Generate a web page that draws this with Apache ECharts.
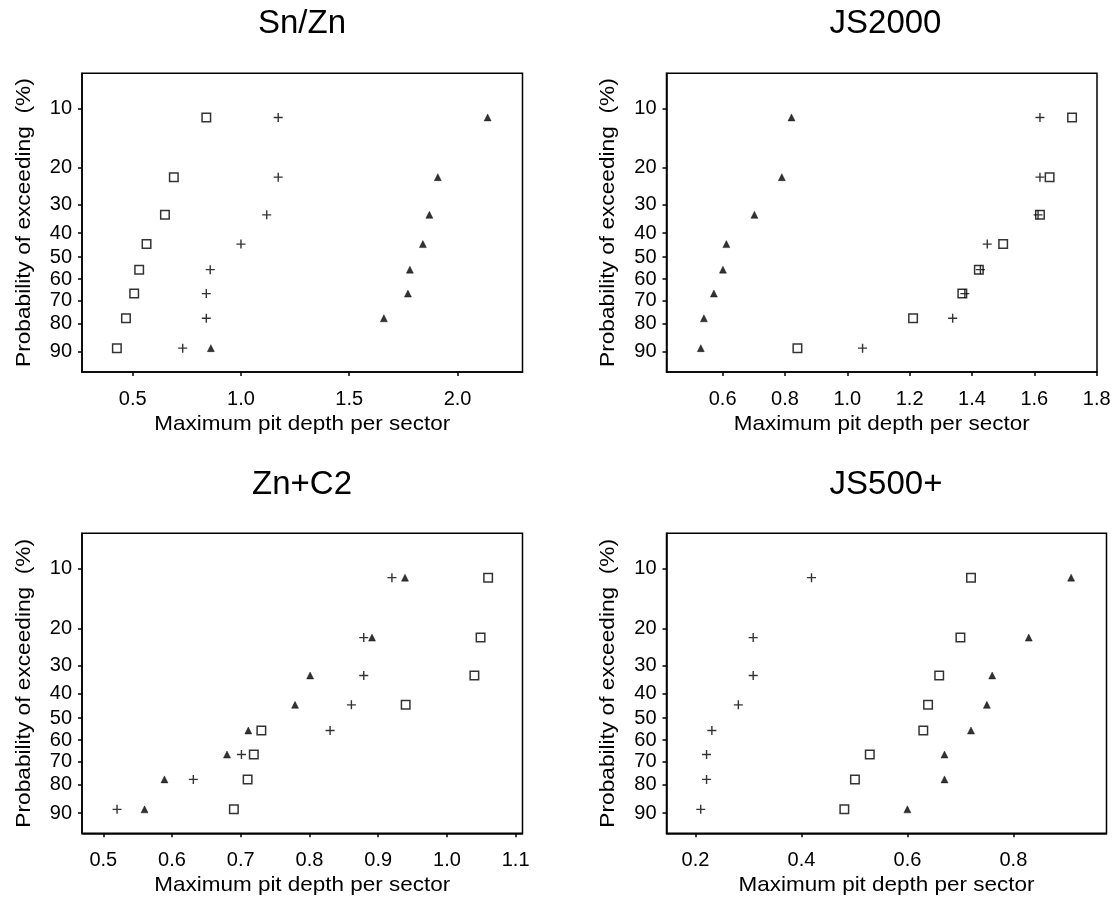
<!DOCTYPE html>
<html>
<head>
<meta charset="utf-8">
<script src="https://cdn.jsdelivr.net/npm/echarts@6/dist/echarts.min.js"></script>
<style>html,body{margin:0;padding:0;background:#fff}#c{width:1113px;height:909px}</style>
</head>
<body>
<div id="c"></div>
<script>
// Probability of exceeding (%) of the 8 ranked points in every panel
var probExceed = [11.1, 22.2, 33.3, 44.4, 55.6, 66.7, 77.8, 88.9];
// Y tick labels (%)
var yTicks = [10, 20, 30, 40, 50, 60, 70, 80, 90];

var titles = ['Sn/Zn', 'JS2000', 'Zn+C2', 'JS500+'];
var xTicks1 = [0.5, 1.0, 1.5, 2.0];
var xTicks2 = [0.6, 0.8, 1.0, 1.2, 1.4, 1.6, 1.8];
var xTicks3 = [0.5, 0.6, 0.7, 0.8, 0.9, 1.0, 1.1];
var xTicks4 = [0.2, 0.4, 0.6, 0.8];

// Sn/Zn
var snzn_square = [0.840, 0.690, 0.649, 0.564, 0.530, 0.507, 0.469, 0.427];
var snzn_plus   = [1.172, 1.172, 1.119, 1.000, 0.858, 0.840, 0.840, 0.731];
var snzn_tri    = [2.139, 1.909, 1.870, 1.840, 1.780, 1.771, 1.660, 0.861];
// JS2000
var js2000_square = [1.721, 1.649, 1.618, 1.500, 1.422, 1.369, 1.211, 0.840];
var js2000_plus   = [1.618, 1.618, 1.612, 1.449, 1.427, 1.377, 1.338, 1.049];
var js2000_tri    = [0.821, 0.790, 0.702, 0.612, 0.601, 0.572, 0.540, 0.530];
// Zn+C2
var znc2_square = [1.060, 1.049, 1.040, 0.940, 0.730, 0.719, 0.710, 0.690];
var znc2_plus   = [0.920, 0.879, 0.879, 0.861, 0.830, 0.701, 0.631, 0.520];
var znc2_tri    = [0.939, 0.891, 0.801, 0.779, 0.711, 0.680, 0.589, 0.560];
// JS500+
var js500_square = [0.720, 0.700, 0.660, 0.639, 0.630, 0.529, 0.501, 0.481];
var js500_plus   = [0.419, 0.309, 0.309, 0.281, 0.231, 0.221, 0.221, 0.210];
var js500_tri    = [0.909, 0.829, 0.760, 0.750, 0.720, 0.670, 0.670, 0.600];

// Gumbel (extreme value) probability scale
function gumbel(p) { return -Math.log(-Math.log(1 - p / 100)); }
function invGumbel(v) { return 100 * (1 - Math.exp(-Math.exp(-v))); }

var FONT = '"Liberation Sans", Arial, Helvetica, sans-serif';
var panels = [
  { title: titles[0], ticks: xTicks1, min: 0.266, max: 2.300, sq: snzn_square, pl: snzn_plus, tr: snzn_tri,
    grid: { left: 82, top: 73.3, width: 440.5, height: 298.7 }, tx: 302, ty: 24 },
  { title: titles[1], ticks: xTicks2, min: 0.420, max: 1.801, sq: js2000_square, pl: js2000_plus, tr: js2000_tri,
    grid: { left: 666.5, top: 73.3, width: 430.5, height: 298.7 }, tx: 885.5, ty: 24 },
  { title: titles[2], ticks: xTicks3, min: 0.469, max: 1.110, sq: znc2_square, pl: znc2_plus, tr: znc2_tri,
    grid: { left: 82, top: 533.3, width: 440.5, height: 300 }, tx: 302, ty: 484.7 },
  { title: titles[3], ticks: xTicks4, min: 0.1454, max: 0.9757, sq: js500_square, pl: js500_plus, tr: js500_tri,
    grid: { left: 666.5, top: 533.3, width: 440, height: 300 }, tx: 886, ty: 484.7 }
];

var yVals = yTicks.map(gumbel);
var grids = [], xAxes = [], yAxes = [], series = [], graphics = [];

function pts(xs) { return xs.map(function (x, i) { return [x, gumbel(probExceed[i])]; }); }

panels.forEach(function (p, k) {
  grids.push(Object.assign({ show: true, borderColor: '#000', borderWidth: 1.5, backgroundColor: 'transparent', containLabel: false, outerBoundsMode: 'none' }, p.grid));
  xAxes.push({
    type: 'value', gridIndex: k, min: p.min, max: p.max,
    axisLine: { show: true, onZero: false, lineStyle: { color: '#000', width: 1.5 } },
    splitLine: { show: false },
    axisTick: { show: true, length: 4, lineStyle: { color: '#000', width: 1.5 }, customValues: p.ticks },
    axisLabel: { show: true, margin: 17, color: '#000', fontSize: 20, fontFamily: FONT, customValues: p.ticks,
      formatter: function (v) { return v.toFixed(1); } }
  });
  yAxes.push({
    type: 'value', gridIndex: k, min: -1.09, max: 2.70,
    axisLine: { show: true, onZero: false, lineStyle: { color: '#000', width: 1.5 } },
    splitLine: { show: false },
    axisTick: { show: true, length: 4, lineStyle: { color: '#000', width: 1.5 }, customValues: yVals },
    axisLabel: { show: true, margin: 10, color: '#000', fontSize: 20, fontFamily: FONT, customValues: yVals,
      formatter: function (v) { return String(Math.round(invGumbel(v))); } }
  });
  series.push({
    type: 'scatter', xAxisIndex: k, yAxisIndex: k, data: pts(p.sq), symbol: 'rect', symbolSize: 8.5,
    itemStyle: { color: 'rgba(0,0,0,0)', borderColor: '#000', borderWidth: 1.5 }, silent: true, animation: false
  });
  series.push({
    type: 'scatter', xAxisIndex: k, yAxisIndex: k, data: pts(p.pl), symbol: 'path://M0,4.5L9,4.5M4.5,0L4.5,9', symbolSize: 9,
    itemStyle: { color: 'rgba(0,0,0,0)', borderColor: '#000', borderWidth: 1.4 }, silent: true, animation: false
  });
  series.push({
    type: 'scatter', xAxisIndex: k, yAxisIndex: k, data: pts(p.tr), symbol: 'triangle', symbolSize: 7,
    itemStyle: { color: '#000', borderColor: '#000', borderWidth: 0.5 }, silent: true, animation: false
  });
  var g = p.grid;
  graphics.push({ type: 'text', x: p.tx, y: p.ty, silent: true,
    style: { text: p.title, font: 'normal 33px ' + FONT, fill: '#000', align: 'center', verticalAlign: 'middle', textAlign: 'center', textVerticalAlign: 'middle' } });
  graphics.push({ type: 'text', x: g.left + g.width / 2, y: g.top + g.height + 52, scaleX: 1.07, silent: true,
    style: { text: 'Maximum pit depth per sector', font: 'normal 21px ' + FONT, fill: '#000', align: 'center', verticalAlign: 'middle', textAlign: 'center', textVerticalAlign: 'middle' } });
  graphics.push({ type: 'text', x: g.left - 58, y: g.top + g.height / 2, rotation: Math.PI / 2, scaleX: 1.08, silent: true,
    style: { text: 'Probability of exceeding  (%)', font: 'normal 21px ' + FONT, fill: '#000', align: 'center', verticalAlign: 'middle', textAlign: 'center', textVerticalAlign: 'middle' } });
});

var chart = echarts.init(document.getElementById('c'), null, { renderer: 'canvas' });
chart.setOption({
  animation: false,
  backgroundColor: '#fff',
  grid: grids, xAxis: xAxes, yAxis: yAxes, series: series,
  graphic: { elements: graphics }
});
</script>
</body>
</html>
